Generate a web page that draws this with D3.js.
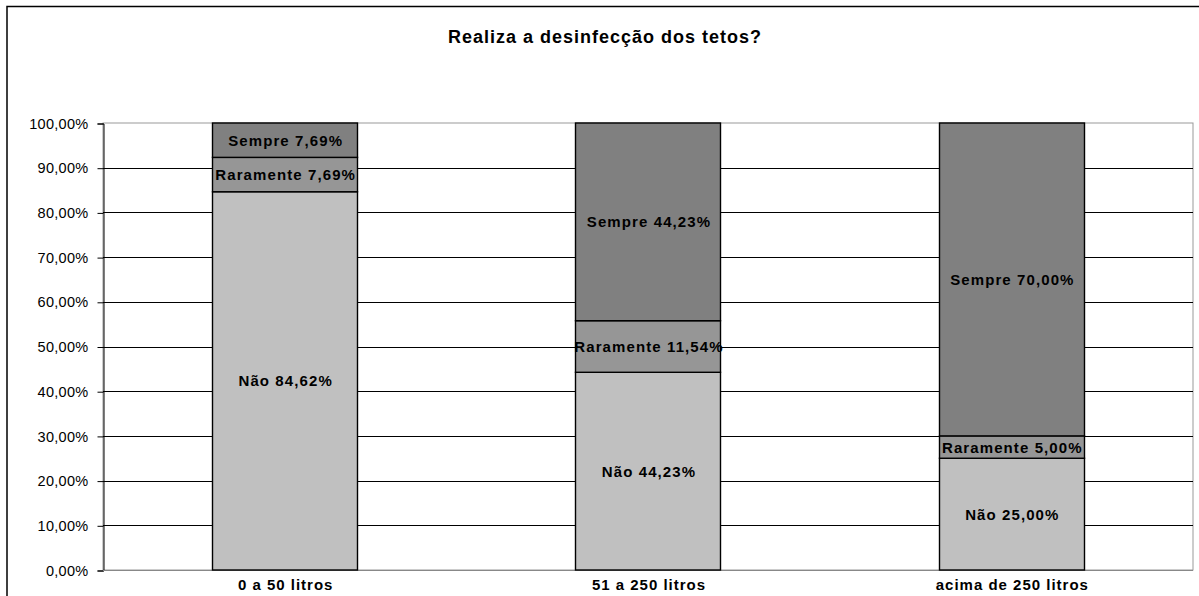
<!DOCTYPE html>
<html>
<head>
<meta charset="utf-8">
<script src="https://cdn.jsdelivr.net/npm/d3@7"></script>
<style>
  body { margin: 0; background: #fff; }
  text { font-family: "Liberation Sans", Arial, sans-serif; }
</style>
</head>
<body>
<div id="chart"></div>
<script>
// Realiza a desinfecção dos tetos?
const categories = ["0 a 50 litros", "51 a 250 litros", "acima de 250 litros"]
const series = ["Não", "Raramente", "Sempre"]
const nao       = [84.62, 44.23, 25.00]
const raramente = [7.69, 11.54, 5.00]
const sempre    = [7.69, 44.23, 70.00]
const yTicks = [0, 10, 20, 30, 40, 50, 60, 70, 80, 90, 100]

const colors = {"Não": "#c0c0c0", "Raramente": "#969696", "Sempre": "#808080"}

const W = 1199, H = 596
const m = {left: 103, right: 6, top: 123, bottom: 26}

const svg = d3.select("#chart").append("svg")
    .attr("width", W).attr("height", H)

// outer chart frame
svg.append("rect")
    .attr("x", 7).attr("y", 6.5)
    .attr("width", W + 10).attr("height", H + 10)
    .attr("fill", "#fff").attr("stroke", "#000").attr("stroke-width", 1.5)

svg.append("text")
    .attr("x", 605).attr("y", 43)
    .attr("text-anchor", "middle")
    .attr("font-size", 18).attr("font-weight", "bold")
    .attr("letter-spacing", 1)
    .text("Realiza a desinfecção dos tetos?")

const x = d3.scaleBand().domain(categories)
    .range([m.left, W - m.right]).paddingInner(0.6).paddingOuter(0.3)
const y = d3.scaleLinear().domain([0, 100]).range([H - m.bottom, m.top])

// plot area border
svg.append("rect")
    .attr("x", m.left).attr("y", m.top)
    .attr("width", W - m.right - m.left).attr("height", y(0) - m.top)
    .attr("fill", "none").attr("stroke", "#999")

// gridlines
svg.append("g").selectAll("line")
    .data(yTicks.filter(d => d > 0 && d < 100))
    .join("line")
    .attr("x1", m.left).attr("x2", W - m.right)
    .attr("y1", d => Math.round(y(d)) + 0.5).attr("y2", d => Math.round(y(d)) + 0.5)
    .attr("stroke", "#000")

// y axis
const yAxis = d3.axisLeft(y).tickValues(yTicks).tickSize(6).tickPadding(9)
    .tickFormat(d => d3.format(".2f")(d).replace(".", ",") + "%")
const gy = svg.append("g").attr("transform", `translate(${m.left + 0.5},0.5)`).call(yAxis)
gy.select(".domain").attr("stroke", "#000")
gy.selectAll(".tick line").attr("stroke", "#000")
gy.selectAll(".tick text").attr("font-size", 14.5).attr("fill", "#000")
    .attr("letter-spacing", 0.3)
    .attr("font-family", "'Liberation Sans', Arial, sans-serif")

// bottom axis line
svg.append("line")
    .attr("x1", m.left).attr("x2", W - m.right)
    .attr("y1", Math.round(y(0)) + 0.5).attr("y2", Math.round(y(0)) + 0.5)
    .attr("stroke", "#888")

// stacked bars
const rows = categories.map((c, i) => ({cat: c, "Não": nao[i], "Raramente": raramente[i], "Sempre": sempre[i]}))
const stack = d3.stack().keys(series)(rows)

stack.forEach(layer => {
    const g = svg.append("g")
    g.selectAll("rect").data(layer).join("rect")
        .attr("x", d => Math.round(x(d.data.cat)) + 0.5)
        .attr("width", Math.round(x.bandwidth()))
        .attr("y", d => y(d[1]))
        .attr("height", d => y(d[0]) - y(d[1]))
        .attr("fill", colors[layer.key])
        .attr("stroke", "#000").attr("stroke-width", 1.4)
})
stack.forEach(layer => {
    svg.append("g").selectAll("text").data(layer).join("text")
        .attr("x", d => x(d.data.cat) + x.bandwidth() / 2 + 1)
        .attr("y", d => (y(d[0]) + y(d[1])) / 2 + 5.5)
        .attr("text-anchor", "middle")
        .attr("font-size", 15).attr("font-weight", "bold")
        .attr("letter-spacing", 1.1)
        .text(d => layer.key + " " + d3.format(".2f")(d[1] - d[0]).replace(".", ",") + "%")
})

// category labels
svg.append("g").selectAll("text").data(categories).join("text")
    .attr("x", d => x(d) + x.bandwidth() / 2 + 1)
    .attr("y", 590)
    .attr("text-anchor", "middle")
    .attr("font-size", 15).attr("font-weight", "bold")
    .attr("letter-spacing", 1)
    .text(d => d)
</script>
</body>
</html>
